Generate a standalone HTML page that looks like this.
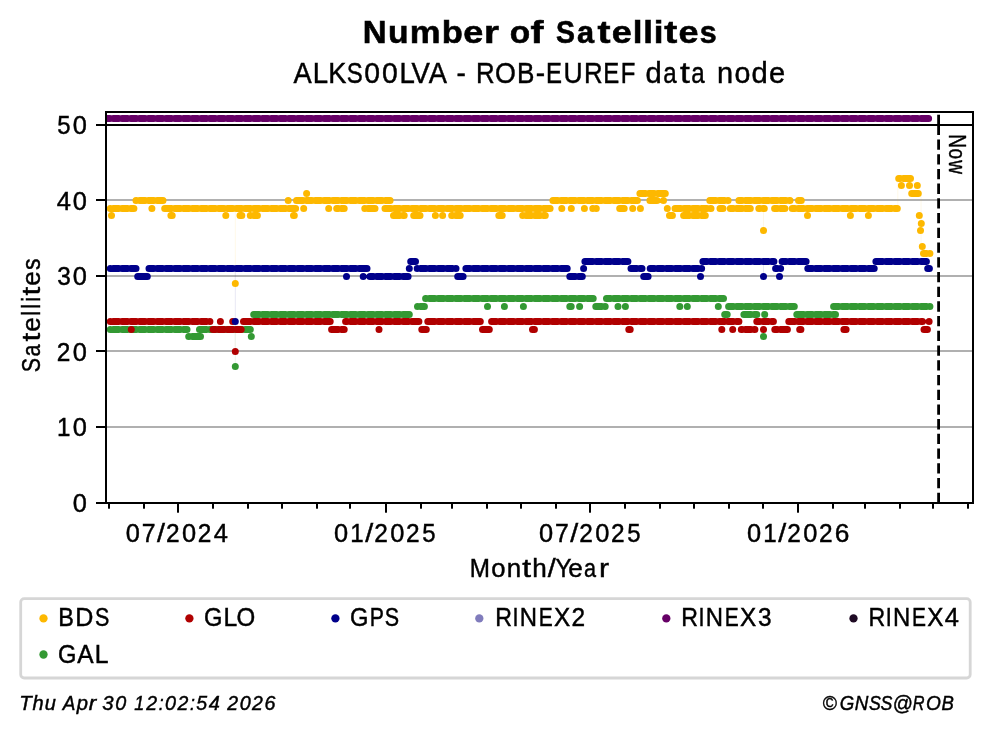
<!DOCTYPE html>
<html><head><meta charset="utf-8"><title>Number of Satellites</title>
<style>html,body{margin:0;padding:0;background:#fff;}svg{display:block;will-change:transform;}text{font-family:"Liberation Sans",sans-serif;}</style></head>
<body>
<svg width="993" height="734" viewBox="0 0 993 734" font-family="'Liberation Sans', sans-serif" fill="#000">
<rect width="993" height="734" fill="#fff"/>
<rect x="106.0" y="199.0" width="867.0" height="2" fill="#b0b0b0"/>
<rect x="106.0" y="275.0" width="867.0" height="2" fill="#b0b0b0"/>
<rect x="106.0" y="350.0" width="867.0" height="2" fill="#b0b0b0"/>
<rect x="106.0" y="426.0" width="867.0" height="2" fill="#b0b0b0"/>
<g stroke-width="1" fill="none" opacity="0.09"><path d="M235.3 208.5V283.5" stroke="#fdb800"/><path d="M235.3 268.5V321.5" stroke="#00008b"/><path d="M235.3 321.5V351.5" stroke="#b00000"/><path d="M235.3 329.5V366.5" stroke="#339933"/><path d="M763.5 208.5V230.5" stroke="#fdb800"/><path d="M763.5 261.5V276.5" stroke="#00008b"/><path d="M897.8 178.5V208.5" stroke="#fdb800"/><path d="M921 193.5V253.5" stroke="#fdb800"/></g>
<clipPath id="ax"><rect x="106.0" y="112.0" width="867.0" height="391.0"/></clipPath>
<g clip-path="url(#ax)">
<path d="M110.3 208.5h.01M113.3 208.5H118.7M122.1 208.5H127.5M130.9 208.5H133.9M136 200.5H136.3M139.7 200.5H145.1M148.5 200.5H153.8M157.2 200.5H163M151.9 208.5h.01M164.7 208.5H171.4M174.8 208.5H180.2M183.6 208.5H189M192.4 208.5H197.7M201.1 208.5H206.5M209.9 208.5H215.3M218.7 208.5H224.1M227.5 208.5H232.9M236.3 208.5H241.6M245 208.5H250.4M253.8 208.5H259.2M262.6 208.5H268M271.4 208.5H276.8M280.2 208.5H285.5M288.9 208.5H295.6M303.7 208.5h.01M111.5 215.5h.01M170.9 215.5H172.2M225.8 215.5h.01M240 215.5H241.8M250.3 215.5H250.4M253.8 215.5H257.4M235.3 283.5h.01M293.5 215.5H294.3M288.2 200.5h.01M296.5 200.5H303.1M306.5 200.5H311.9M315.3 200.5H320.7M324.1 200.5H329.4M332.8 200.5H338.2M341.6 200.5H347M350.4 200.5H355.8M359.2 200.5H364.6M368 200.5H373.3M376.7 200.5H382.1M385.5 200.5H390.1M306.6 193.5h.01M328.7 208.5h.01M336.7 208.5H338.2M341.6 208.5H344.2M364.8 208.5h.01M368 208.5H375M385 208.5H390.9M394.3 208.5H399.7M403.1 208.5H408.5M411.9 208.5H417.2M420.6 208.5H426M429.4 208.5H434.8M438.2 208.5H443.6M447 208.5H452.4M455.8 208.5H461.1M464.5 208.5H469.9M473.3 208.5H478.7M482.1 208.5H487.5M490.9 208.5H496.3M499.7 208.5H505M508.4 208.5H513.8M517.2 208.5H522.6M526 208.5H531.4M534.8 208.5H540.2M543.6 208.5H550.1M393.5 215.5H399.7M403.1 215.5H404.2M413.7 215.5H420M561.8 208.5h.01M571.3 208.5h.01M584.4 208.5h.01M552.9 200.5H557.7M561.1 200.5H566.5M569.9 200.5H575.3M578.7 200.5H584.1M587.5 200.5H592.8M596.2 200.5H601.6M605 200.5H610.4M613.8 200.5H619.2M622.6 200.5H628M631.4 200.5H637.4M435.4 215.5h.01M442.6 215.5h.01M451.7 215.5H452.4M455.8 215.5H460.2M498.8 215.5H502.2M522.7 215.5h.01M526 215.5H531.4M534.8 215.5H540.2M543.6 215.5H545.3M639.9 193.5H645.5M648.9 193.5H654.3M657.7 193.5H665.3M649.9 200.5H657M663.5 200.5h.01M709.8 200.5H715.8M719.2 200.5H724.5M727.9 200.5H728.1M738.9 200.5H742.1M745.5 200.5H750.9M754.3 200.5H759.7M763.1 200.5H768.4M771.8 200.5H777.2M780.6 200.5H786M789.4 200.5H790M798.5 200.5H801.3M592.8 208.5h.01M596.2 208.5H596.3M619.7 208.5H624.2M632.7 208.5h.01M640.4 208.5h.01M667.3 208.5h.01M675 208.5H680.6M684 208.5H689.4M692.8 208.5H698.2M701.6 208.5H707M710.4 208.5H711M720 208.5H723M730.3 208.5H733.3M736.7 208.5H742.1M745.5 208.5H750.3M758.8 208.5H759.7M763.1 208.5H764.3M774.6 208.5H777.2M780.6 208.5H784.9M792.2 208.5H794.8M798.2 208.5H803.6M807 208.5H812.3M815.7 208.5H821.1M824.5 208.5H829.9M833.3 208.5H838.7M842.1 208.5H847.5M850.9 208.5H856.2M859.6 208.5H865M868.4 208.5H873.8M877.2 208.5H882.6M886 208.5H891.4M894.8 208.5H897.3M669.5 215.5H672.4M683.6 215.5H689.4M692.8 215.5H698.2M701.6 215.5H705.3M807.5 215.5h.01M850.4 215.5h.01M868.4 215.5h.01M763.5 230.5h.01M898.7 178.5H900.1M903.5 178.5H910.5M901.4 185.5h.01M909.5 185.5h.01M917.3 185.5h.01M911.7 193.5H918.3M919.3 215.5h.01M921.3 223.5h.01M920.5 230.5h.01M922.3 246.5h.01M923.5 253.5H926.5M929.9 253.5h.01" stroke="#fdb800" stroke-width="7.0" stroke-linecap="round" fill="none"/>
<path d="M110.3 329.5h.01M113.3 329.5H118.7M122.1 329.5H127.5M130.9 329.5H136.3M139.7 329.5H145.1M148.5 329.5H153.8M157.2 329.5H162.6M166 329.5H171.4M174.8 329.5H180.2M183.6 329.5H187M188.7 336.5H189M192.4 336.5H200.5M199.5 329.5H206.5M209.9 329.5H215.3M218.7 329.5H224.1M227.5 329.5H232.9M236.3 329.5H241.6M245 329.5H250.3M251.3 336.5h.01M235.3 366.5h.01M253.7 314.5H259.2M262.6 314.5H268M271.4 314.5H276.8M280.2 314.5H285.5M288.9 314.5H294.3M297.7 314.5H303.1M306.5 314.5H311.9M315.3 314.5H320.7M324.1 314.5H329.4M332.8 314.5H338.2M341.6 314.5H347M350.4 314.5H355.8M359.2 314.5H364.6M368 314.5H373.3M376.7 314.5H382.1M385.5 314.5H390.9M394.3 314.5H399.7M403.1 314.5H409.3M417.5 306.5h.01M420.6 306.5H424.4M425.6 298.5H426M429.4 298.5H434.8M438.2 298.5H443.6M447 298.5H452.4M455.8 298.5H461.1M464.5 298.5H469.9M473.3 298.5H478.7M482.1 298.5H487.5M490.9 298.5H496.3M499.7 298.5H505M508.4 298.5H513.8M517.2 298.5H522.6M526 298.5H531.4M534.8 298.5H540.2M543.6 298.5H548.9M552.3 298.5H557.7M561.1 298.5H566.5M569.9 298.5H575.3M578.7 298.5H584.1M587.5 298.5H593.2M487.5 306.5h.01M504.4 306.5h.01M523.4 306.5h.01M569.8 306.5H571.2M579.6 306.5h.01M606.5 298.5H610.4M613.8 298.5H619.2M622.6 298.5H628M631.4 298.5H636.7M640.1 298.5H645.5M648.9 298.5H654.3M657.7 298.5H663.1M666.5 298.5H671.9M675.3 298.5H680.6M684 298.5H689.4M692.8 298.5H698.2M701.6 298.5H707M710.4 298.5H715.8M719.2 298.5H723.5M595.8 306.5H601.6M605 306.5H605.2M618 306.5h.01M625.4 306.5h.01M679.8 306.5h.01M687.3 306.5h.01M718.3 306.5h.01M728.6 306.5H733.3M736.7 306.5H742.1M745.5 306.5H750.9M754.3 306.5H759.7M763.1 306.5H768.4M771.8 306.5H777.2M780.6 306.5H786M789.4 306.5H794.3M724.7 314.5H727.2M743.9 314.5H750.9M754.3 314.5H756.8M764.7 314.5h.01M796.8 314.5H803.6M807 314.5H812.3M815.7 314.5H821.1M824.5 314.5H829.9M833.3 314.5H835.5M833.6 306.5H838.7M842.1 306.5H847.5M850.9 306.5H856.2M859.6 306.5H865M868.4 306.5H873.8M877.2 306.5H882.6M886 306.5H891.4M894.8 306.5H900.1M903.5 306.5H908.9M912.3 306.5H917.7M921.1 306.5H926.5M929.9 306.5h.01M763.5 336.5h.01" stroke="#339933" stroke-width="7.0" stroke-linecap="round" fill="none"/>
<path d="M110.3 321.5h.01M113.3 321.5H118.7M122.1 321.5H127.5M130.9 321.5H136.3M139.7 321.5H145.1M148.5 321.5H153.8M157.2 321.5H162.6M166 321.5H171.4M174.8 321.5H180.2M183.6 321.5H189M192.4 321.5H197.7M201.1 321.5H206.5M209.9 321.5h.01M220.4 321.5h.01M232.7 321.5h.01M243.5 321.5H250.4M253.8 321.5H259.2M262.6 321.5H268M271.4 321.5H276.8M280.2 321.5H285.5M288.9 321.5H294.3M297.7 321.5H303.1M306.5 321.5H311.9M315.3 321.5H320.7M324.1 321.5H330.2M131.3 329.5h.01M213 329.5H215.3M218.7 329.5H224.1M227.5 329.5H232.9M236.3 329.5H241.2M235.3 351.5h.01M331.6 329.5H338.2M341.6 329.5H344.2M345.6 321.5H347M350.4 321.5H355.8M359.2 321.5H364.6M368 321.5H373.3M376.7 321.5H382.1M385.5 321.5H390.9M394.3 321.5H399.7M403.1 321.5H408.5M411.9 321.5H418.9M379 329.5h.01M421.8 329.5H426.3M427.8 321.5H434.8M438.2 321.5H443.6M447 321.5H452.4M455.8 321.5H461.1M464.5 321.5H469.9M473.3 321.5H480.3M482.5 329.5H489.3M491.6 321.5H496.3M499.7 321.5H505M508.4 321.5H513.8M517.2 321.5H522.6M526 321.5H531.4M534.8 321.5H540.2M543.6 321.5H548.9M552.3 321.5H557.7M561.1 321.5H566.5M569.9 321.5H575.3M578.7 321.5H584.1M587.5 321.5H592.8M596.2 321.5H601.6M605 321.5H610.4M613.8 321.5H619.2M622.6 321.5H628M631.4 321.5H636.7M640.1 321.5H645.5M648.9 321.5H654.3M657.7 321.5H663.1M666.5 321.5H671.9M675.3 321.5H680.6M684 321.5H689.4M692.8 321.5H698.2M701.6 321.5H707M710.4 321.5H715.8M719.2 321.5H724.5M727.9 321.5H733.3M736.7 321.5H738.9M532.5 329.5H534.4M628.8 329.5H630.2M721.8 329.5h.01M732.7 329.5h.01M741.3 329.5H742.1M745.5 329.5H750.9M754.3 329.5H754.9M756.8 321.5H759.7M763.1 321.5H768.4M771.8 321.5H773.4M763.5 329.5h.01M774.8 329.5H777.2M780.6 329.5H787.4M788.8 321.5H794.8M798.2 321.5H803.6M807 321.5H812.3M815.7 321.5H821.1M824.5 321.5H829.9M833.3 321.5H838.7M842.1 321.5H847.5M850.9 321.5H856.2M859.6 321.5H865M868.4 321.5H873.8M877.2 321.5H882.6M886 321.5H891.4M894.8 321.5H900.1M903.5 321.5H908.9M912.3 321.5H917.7M921.1 321.5H922.5M799.7 329.5H800.9M843.9 329.5H846.1M924 329.5H927.4M929.1 321.5h.01" stroke="#b00000" stroke-width="7.0" stroke-linecap="round" fill="none"/>
<path d="M110.3 268.5h.01M113.3 268.5H118.7M122.1 268.5H127.5M130.9 268.5H136M137.7 276.5H147.3M149 268.5H153.8M157.2 268.5H162.6M166 268.5H171.4M174.8 268.5H180.2M183.6 268.5H189M192.4 268.5H197.7M201.1 268.5H206.5M209.9 268.5H215.3M218.7 268.5H224.1M227.5 268.5H232.9M236.3 268.5H241.6M245 268.5H250.4M253.8 268.5H259.2M262.6 268.5H268M271.4 268.5H276.8M280.2 268.5H285.5M288.9 268.5H294.3M297.7 268.5H303.1M306.5 268.5H311.9M315.3 268.5H320.7M324.1 268.5H329.4M332.8 268.5H338.2M341.6 268.5H347M350.4 268.5H355.8M359.2 268.5H367M346.5 276.5h.01M363.2 276.5h.01M369.9 276.5H373.3M376.7 276.5H382.1M385.5 276.5H390.9M394.3 276.5H399.7M403.1 276.5H408.1M409.3 268.5h.01M410.7 261.5H415.5M417.2 268.5h.01M420.6 268.5H426M429.4 268.5H434.8M438.2 268.5H443.6M447 268.5H452.4M455.8 268.5H456M457.7 276.5H463.1M465.9 268.5H469.9M473.3 268.5H478.7M482.1 268.5H487.5M490.9 268.5H496.3M499.7 268.5H505M508.4 268.5H513.8M517.2 268.5H522.6M526 268.5H531.4M534.8 268.5H540.2M543.6 268.5H548.9M552.3 268.5H557.7M561.1 268.5H567.2M569.8 276.5H575.3M578.7 276.5H582.3M583.6 268.5h.01M584.9 261.5H592.8M596.2 261.5H601.6M605 261.5H610.4M613.8 261.5H619.2M622.6 261.5H627.9M631 268.5H636.7M640.1 268.5H642M643.7 276.5H648.1M650.2 268.5H654.3M657.7 268.5H663.1M666.5 268.5H671.9M675.3 268.5H680.6M684 268.5H689.4M692.8 268.5H698.2M701.6 268.5h.01M700.5 276.5h.01M702.9 261.5H707M710.4 261.5H715.8M719.2 261.5H724.5M727.9 261.5H733.3M736.7 261.5H742.1M745.5 261.5H750.9M754.3 261.5H759.7M763.1 261.5H768.4M771.8 261.5H773.9M782.1 261.5H786M789.4 261.5H794.8M798.2 261.5H806.1M775.6 268.5H777.2M780.6 268.5h.01M763.5 276.5h.01M779.5 276.5h.01M807.8 268.5H812.3M815.7 268.5H821.1M824.5 268.5H829.9M833.3 268.5H838.7M842.1 268.5H847.5M850.9 268.5H856.2M859.6 268.5H865M868.4 268.5H874.2M875.9 261.5H882.6M886 261.5H891.4M894.8 261.5H900.1M903.5 261.5H908.9M912.3 261.5H917.7M921.1 261.5H926.4M927.7 268.5H929.4M235.3 321.5h.01" stroke="#00008b" stroke-width="7.0" stroke-linecap="round" fill="none"/>
<path d="M107.6 118.5H109.9M113.3 118.5H118.7M122.1 118.5H127.5M130.9 118.5H136.3M139.7 118.5H145.1M148.5 118.5H153.8M157.2 118.5H162.6M166 118.5H171.4M174.8 118.5H180.2M183.6 118.5H189M192.4 118.5H197.7M201.1 118.5H206.5M209.9 118.5H215.3M218.7 118.5H224.1M227.5 118.5H232.9M236.3 118.5H241.6M245 118.5H250.4M253.8 118.5H259.2M262.6 118.5H268M271.4 118.5H276.8M280.2 118.5H285.5M288.9 118.5H294.3M297.7 118.5H303.1M306.5 118.5H311.9M315.3 118.5H320.7M324.1 118.5H329.4M332.8 118.5H338.2M341.6 118.5H347M350.4 118.5H355.8M359.2 118.5H364.6M368 118.5H373.3M376.7 118.5H382.1M385.5 118.5H390.9M394.3 118.5H399.7M403.1 118.5H408.5M411.9 118.5H417.2M420.6 118.5H426M429.4 118.5H434.8M438.2 118.5H443.6M447 118.5H452.4M455.8 118.5H461.1M464.5 118.5H469.9M473.3 118.5H478.7M482.1 118.5H487.5M490.9 118.5H496.3M499.7 118.5H505M508.4 118.5H513.8M517.2 118.5H522.6M526 118.5H531.4M534.8 118.5H540.2M543.6 118.5H548.9M552.3 118.5H557.7M561.1 118.5H566.5M569.9 118.5H575.3M578.7 118.5H584.1M587.5 118.5H592.8M596.2 118.5H601.6M605 118.5H610.4M613.8 118.5H619.2M622.6 118.5H628M631.4 118.5H636.7M640.1 118.5H645.5M648.9 118.5H654.3M657.7 118.5H663.1M666.5 118.5H671.9M675.3 118.5H680.6M684 118.5H689.4M692.8 118.5H698.2M701.6 118.5H707M710.4 118.5H715.8M719.2 118.5H724.5M727.9 118.5H733.3M736.7 118.5H742.1M745.5 118.5H750.9M754.3 118.5H759.7M763.1 118.5H768.4M771.8 118.5H777.2M780.6 118.5H786M789.4 118.5H794.8M798.2 118.5H803.6M807 118.5H812.3M815.7 118.5H821.1M824.5 118.5H829.9M833.3 118.5H838.7M842.1 118.5H847.5M850.9 118.5H856.2M859.6 118.5H865M868.4 118.5H873.8M877.2 118.5H882.6M886 118.5H891.4M894.8 118.5H900.1M903.5 118.5H908.9M912.3 118.5H917.7M921.1 118.5H928.6" stroke="#660066" stroke-width="7.0" stroke-linecap="round" fill="none"/>
</g>
<path d="M938.6 503.0V125.0" stroke="#000" stroke-width="2.8" stroke-dasharray="10.28 4.44" fill="none"/>
<path d="M938.6 125.0V112.0" stroke="#000" stroke-width="2.8" stroke-dasharray="10.28 4.44" fill="none"/>
<rect x="105.0" y="111.0" width="2" height="393.0"/>
<rect x="972.0" y="111.0" width="2" height="393.0"/>
<rect x="105.0" y="111.0" width="869.0" height="2"/>
<rect x="105.0" y="124.0" width="869.0" height="2"/>
<rect x="105.0" y="502.0" width="869.0" height="2"/>
<rect x="96" y="502.0" width="10" height="2"/>
<rect x="96" y="426.0" width="10" height="2"/>
<rect x="96" y="350.0" width="10" height="2"/>
<rect x="96" y="275.0" width="10" height="2"/>
<rect x="96" y="199.0" width="10" height="2"/>
<rect x="96" y="124.0" width="10" height="2"/>
<rect x="108" y="503.0" width="2" height="5.7"/>
<rect x="143" y="503.0" width="2" height="5.7"/>
<rect x="177" y="503.0" width="2" height="9.7"/>
<rect x="212" y="503.0" width="2" height="5.7"/>
<rect x="247" y="503.0" width="2" height="5.7"/>
<rect x="281" y="503.0" width="2" height="5.7"/>
<rect x="316" y="503.0" width="2" height="5.7"/>
<rect x="349" y="503.0" width="2" height="5.7"/>
<rect x="385" y="503.0" width="2" height="9.7"/>
<rect x="420" y="503.0" width="2" height="5.7"/>
<rect x="451" y="503.0" width="2" height="5.7"/>
<rect x="486" y="503.0" width="2" height="5.7"/>
<rect x="520" y="503.0" width="2" height="5.7"/>
<rect x="555" y="503.0" width="2" height="5.7"/>
<rect x="589" y="503.0" width="2" height="9.7"/>
<rect x="624" y="503.0" width="2" height="5.7"/>
<rect x="659" y="503.0" width="2" height="5.7"/>
<rect x="693" y="503.0" width="2" height="5.7"/>
<rect x="728" y="503.0" width="2" height="5.7"/>
<rect x="762" y="503.0" width="2" height="5.7"/>
<rect x="797" y="503.0" width="2" height="9.7"/>
<rect x="832" y="503.0" width="2" height="5.7"/>
<rect x="864" y="503.0" width="2" height="5.7"/>
<rect x="899" y="503.0" width="2" height="5.7"/>
<rect x="932" y="503.0" width="2" height="5.7"/>
<rect x="967" y="503.0" width="2" height="5.7"/>
<text y="43.0" font-size="31.3" stroke="#000" stroke-width="0.55" font-weight="bold"><tspan x="362.85" textLength="23.85" lengthAdjust="spacingAndGlyphs">N</tspan><tspan x="388.13" textLength="20.55" lengthAdjust="spacingAndGlyphs">u</tspan><tspan x="409.84" textLength="30.76" lengthAdjust="spacingAndGlyphs">m</tspan><tspan x="441.71" textLength="21.07" lengthAdjust="spacingAndGlyphs">b</tspan><tspan x="463.20" textLength="20.02" lengthAdjust="spacingAndGlyphs">e</tspan><tspan x="484.04" textLength="14.98" lengthAdjust="spacingAndGlyphs">r</tspan><tspan x="498.81"> </tspan><tspan x="509.73" textLength="20.43" lengthAdjust="spacingAndGlyphs">o</tspan><tspan x="530.63" textLength="13.02" lengthAdjust="spacingAndGlyphs">f</tspan><tspan x="543.73"> </tspan><tspan x="556.02" textLength="18.95" lengthAdjust="spacingAndGlyphs">S</tspan><tspan x="577.07" textLength="17.06" lengthAdjust="spacingAndGlyphs">a</tspan><tspan x="597.63" textLength="13.03" lengthAdjust="spacingAndGlyphs">t</tspan><tspan x="611.78" textLength="20.02" lengthAdjust="spacingAndGlyphs">e</tspan><tspan x="632.73" textLength="9.70" lengthAdjust="spacingAndGlyphs">l</tspan><tspan x="643.20" textLength="9.70" lengthAdjust="spacingAndGlyphs">l</tspan><tspan x="653.67" textLength="9.70" lengthAdjust="spacingAndGlyphs">i</tspan><tspan x="664.39" textLength="13.03" lengthAdjust="spacingAndGlyphs">t</tspan><tspan x="678.53" textLength="20.02" lengthAdjust="spacingAndGlyphs">e</tspan><tspan x="699.86" textLength="16.93" lengthAdjust="spacingAndGlyphs">s</tspan></text>
<text y="83.0" font-size="29.2" stroke="#000" stroke-width="0.45"><tspan x="293.46" textLength="18.21" lengthAdjust="spacingAndGlyphs">A</tspan><tspan x="312.77" textLength="15.33" lengthAdjust="spacingAndGlyphs">L</tspan><tspan x="328.27" textLength="18.16" lengthAdjust="spacingAndGlyphs">K</tspan><tspan x="346.73" textLength="15.99" lengthAdjust="spacingAndGlyphs">S</tspan><tspan x="364.35" textLength="15.76" lengthAdjust="spacingAndGlyphs">0</tspan><tspan x="382.02" textLength="15.76" lengthAdjust="spacingAndGlyphs">0</tspan><tspan x="399.44" textLength="15.33" lengthAdjust="spacingAndGlyphs">L</tspan><tspan x="411.49" textLength="18.35" lengthAdjust="spacingAndGlyphs">V</tspan><tspan x="428.78" textLength="18.21" lengthAdjust="spacingAndGlyphs">A</tspan><tspan x="447.40"> </tspan><tspan x="456.56" textLength="9.36" lengthAdjust="spacingAndGlyphs">-</tspan><tspan x="466.25"> </tspan><tspan x="475.92" textLength="18.64" lengthAdjust="spacingAndGlyphs">R</tspan><tspan x="494.90" textLength="20.85" lengthAdjust="spacingAndGlyphs">O</tspan><tspan x="517.05" textLength="17.44" lengthAdjust="spacingAndGlyphs">B</tspan><tspan x="535.64" textLength="9.36" lengthAdjust="spacingAndGlyphs">-</tspan><tspan x="546.12" textLength="15.97" lengthAdjust="spacingAndGlyphs">E</tspan><tspan x="563.47" textLength="19.14" lengthAdjust="spacingAndGlyphs">U</tspan><tspan x="584.04" textLength="18.64" lengthAdjust="spacingAndGlyphs">R</tspan><tspan x="603.31" textLength="15.97" lengthAdjust="spacingAndGlyphs">E</tspan><tspan x="620.79" textLength="14.63" lengthAdjust="spacingAndGlyphs">F</tspan><tspan x="636.04"> </tspan><tspan x="645.40" textLength="16.23" lengthAdjust="spacingAndGlyphs">d</tspan><tspan x="663.37" textLength="13.40" lengthAdjust="spacingAndGlyphs">a</tspan><tspan x="679.96" textLength="9.83" lengthAdjust="spacingAndGlyphs">t</tspan><tspan x="691.28" textLength="13.40" lengthAdjust="spacingAndGlyphs">a</tspan><tspan x="707.44"> </tspan><tspan x="717.09" textLength="16.07" lengthAdjust="spacingAndGlyphs">n</tspan><tspan x="734.43" textLength="15.89" lengthAdjust="spacingAndGlyphs">o</tspan><tspan x="751.40" textLength="16.23" lengthAdjust="spacingAndGlyphs">d</tspan><tspan x="769.02" textLength="16.15" lengthAdjust="spacingAndGlyphs">e</tspan></text>
<text y="512" font-size="25.6" stroke="#000" stroke-width="0.45"><tspan x="72.73" textLength="14.13" lengthAdjust="spacingAndGlyphs">0</tspan></text>
<text y="436" font-size="25.6" stroke="#000" stroke-width="0.45"><tspan x="57.08" textLength="13.42" lengthAdjust="spacingAndGlyphs">1</tspan><tspan x="72.73" textLength="14.13" lengthAdjust="spacingAndGlyphs">0</tspan></text>
<text y="361" font-size="25.6" stroke="#000" stroke-width="0.45"><tspan x="56.78" textLength="13.58" lengthAdjust="spacingAndGlyphs">2</tspan><tspan x="72.73" textLength="14.13" lengthAdjust="spacingAndGlyphs">0</tspan></text>
<text y="285" font-size="25.6" stroke="#000" stroke-width="0.45"><tspan x="57.15" textLength="13.55" lengthAdjust="spacingAndGlyphs">3</tspan><tspan x="72.73" textLength="14.13" lengthAdjust="spacingAndGlyphs">0</tspan></text>
<text y="210" font-size="25.6" stroke="#000" stroke-width="0.45"><tspan x="56.81" textLength="14.16" lengthAdjust="spacingAndGlyphs">4</tspan><tspan x="72.73" textLength="14.13" lengthAdjust="spacingAndGlyphs">0</tspan></text>
<text y="134" font-size="25.6" stroke="#000" stroke-width="0.45"><tspan x="57.14" textLength="13.30" lengthAdjust="spacingAndGlyphs">5</tspan><tspan x="72.73" textLength="14.13" lengthAdjust="spacingAndGlyphs">0</tspan></text>
<text y="542.0" font-size="25.6" stroke="#000" stroke-width="0.45"><tspan x="125.78" textLength="14.13" lengthAdjust="spacingAndGlyphs">0</tspan><tspan x="141.81" textLength="13.79" lengthAdjust="spacingAndGlyphs">7</tspan><tspan x="156.94" textLength="7.97" lengthAdjust="spacingAndGlyphs">/</tspan><tspan x="165.96" textLength="13.58" lengthAdjust="spacingAndGlyphs">2</tspan><tspan x="181.92" textLength="14.13" lengthAdjust="spacingAndGlyphs">0</tspan><tspan x="197.77" textLength="13.58" lengthAdjust="spacingAndGlyphs">2</tspan><tspan x="213.71" textLength="14.16" lengthAdjust="spacingAndGlyphs">4</tspan></text>
<text y="542.0" font-size="25.6" stroke="#000" stroke-width="0.45"><tspan x="334.07" textLength="14.13" lengthAdjust="spacingAndGlyphs">0</tspan><tspan x="350.23" textLength="13.42" lengthAdjust="spacingAndGlyphs">1</tspan><tspan x="365.23" textLength="7.97" lengthAdjust="spacingAndGlyphs">/</tspan><tspan x="374.25" textLength="13.58" lengthAdjust="spacingAndGlyphs">2</tspan><tspan x="390.21" textLength="14.13" lengthAdjust="spacingAndGlyphs">0</tspan><tspan x="406.06" textLength="13.58" lengthAdjust="spacingAndGlyphs">2</tspan><tspan x="422.34" textLength="13.30" lengthAdjust="spacingAndGlyphs">5</tspan></text>
<text y="542.0" font-size="25.6" stroke="#000" stroke-width="0.45"><tspan x="539.07" textLength="14.13" lengthAdjust="spacingAndGlyphs">0</tspan><tspan x="555.10" textLength="13.79" lengthAdjust="spacingAndGlyphs">7</tspan><tspan x="570.23" textLength="7.97" lengthAdjust="spacingAndGlyphs">/</tspan><tspan x="579.25" textLength="13.58" lengthAdjust="spacingAndGlyphs">2</tspan><tspan x="595.21" textLength="14.13" lengthAdjust="spacingAndGlyphs">0</tspan><tspan x="611.06" textLength="13.58" lengthAdjust="spacingAndGlyphs">2</tspan><tspan x="627.34" textLength="13.30" lengthAdjust="spacingAndGlyphs">5</tspan></text>
<text y="542.0" font-size="25.6" stroke="#000" stroke-width="0.45"><tspan x="747.01" textLength="14.13" lengthAdjust="spacingAndGlyphs">0</tspan><tspan x="763.17" textLength="13.42" lengthAdjust="spacingAndGlyphs">1</tspan><tspan x="778.17" textLength="7.97" lengthAdjust="spacingAndGlyphs">/</tspan><tspan x="787.20" textLength="13.58" lengthAdjust="spacingAndGlyphs">2</tspan><tspan x="803.16" textLength="14.13" lengthAdjust="spacingAndGlyphs">0</tspan><tspan x="819.01" textLength="13.58" lengthAdjust="spacingAndGlyphs">2</tspan><tspan x="834.72" textLength="14.63" lengthAdjust="spacingAndGlyphs">6</tspan></text>
<text y="577.0" font-size="25.6" stroke="#000" stroke-width="0.45"><tspan x="469.76" textLength="20.20" lengthAdjust="spacingAndGlyphs">M</tspan><tspan x="491.17" textLength="14.25" lengthAdjust="spacingAndGlyphs">o</tspan><tspan x="506.71" textLength="14.40" lengthAdjust="spacingAndGlyphs">n</tspan><tspan x="522.20" textLength="8.79" lengthAdjust="spacingAndGlyphs">t</tspan><tspan x="532.27" textLength="14.50" lengthAdjust="spacingAndGlyphs">h</tspan><tspan x="547.65" textLength="7.97" lengthAdjust="spacingAndGlyphs">/</tspan><tspan x="555.50" textLength="15.97" lengthAdjust="spacingAndGlyphs">Y</tspan><tspan x="568.30" textLength="14.48" lengthAdjust="spacingAndGlyphs">e</tspan><tspan x="583.99" textLength="12.02" lengthAdjust="spacingAndGlyphs">a</tspan><tspan x="598.99" textLength="10.07" lengthAdjust="spacingAndGlyphs">r</tspan></text>
<rect x="20.7" y="598.6" width="949.5" height="79.4" rx="3.5" ry="3.5" fill="#fff" stroke="#d6d6d6" stroke-width="2.8"/>
<circle cx="43.5" cy="618.4" r="4.15" fill="#fdb800"/>
<text y="626.0" font-size="25.6" stroke="#000" stroke-width="0.45"><tspan x="58.36" textLength="15.64" lengthAdjust="spacingAndGlyphs">B</tspan><tspan x="75.37" textLength="18.13" lengthAdjust="spacingAndGlyphs">D</tspan><tspan x="94.90" textLength="14.34" lengthAdjust="spacingAndGlyphs">S</tspan></text>
<circle cx="189.4" cy="618.4" r="4.15" fill="#b00000"/>
<text y="626.0" font-size="25.6" stroke="#000" stroke-width="0.45"><tspan x="203.94" textLength="18.43" lengthAdjust="spacingAndGlyphs">G</tspan><tspan x="223.53" textLength="13.74" lengthAdjust="spacingAndGlyphs">L</tspan><tspan x="236.40" textLength="18.71" lengthAdjust="spacingAndGlyphs">O</tspan></text>
<circle cx="335.4" cy="618.4" r="4.15" fill="#00008b"/>
<text y="626.0" font-size="25.6" stroke="#000" stroke-width="0.45"><tspan x="349.94" textLength="18.43" lengthAdjust="spacingAndGlyphs">G</tspan><tspan x="369.81" textLength="14.18" lengthAdjust="spacingAndGlyphs">P</tspan><tspan x="384.84" textLength="14.34" lengthAdjust="spacingAndGlyphs">S</tspan></text>
<circle cx="479.3" cy="618.4" r="4.15" fill="#807cbc"/>
<text y="626.0" font-size="25.6" stroke="#000" stroke-width="0.45"><tspan x="495.18" textLength="16.72" lengthAdjust="spacingAndGlyphs">R</tspan><tspan x="512.45" textLength="6.01" lengthAdjust="spacingAndGlyphs">I</tspan><tspan x="519.86" textLength="17.25" lengthAdjust="spacingAndGlyphs">N</tspan><tspan x="538.76" textLength="14.00" lengthAdjust="spacingAndGlyphs">E</tspan><tspan x="554.06" textLength="16.21" lengthAdjust="spacingAndGlyphs">X</tspan><tspan x="571.60" textLength="13.58" lengthAdjust="spacingAndGlyphs">2</tspan></text>
<circle cx="666.3" cy="618.4" r="4.15" fill="#660066"/>
<text y="626.0" font-size="25.6" stroke="#000" stroke-width="0.45"><tspan x="681.18" textLength="16.72" lengthAdjust="spacingAndGlyphs">R</tspan><tspan x="698.45" textLength="6.01" lengthAdjust="spacingAndGlyphs">I</tspan><tspan x="705.86" textLength="17.25" lengthAdjust="spacingAndGlyphs">N</tspan><tspan x="724.76" textLength="14.00" lengthAdjust="spacingAndGlyphs">E</tspan><tspan x="740.06" textLength="16.21" lengthAdjust="spacingAndGlyphs">X</tspan><tspan x="757.97" textLength="13.55" lengthAdjust="spacingAndGlyphs">3</tspan></text>
<circle cx="853.5" cy="618.4" r="4.15" fill="#1f0a24"/>
<text y="626.0" font-size="25.6" stroke="#000" stroke-width="0.45"><tspan x="868.38" textLength="16.72" lengthAdjust="spacingAndGlyphs">R</tspan><tspan x="885.65" textLength="6.01" lengthAdjust="spacingAndGlyphs">I</tspan><tspan x="893.06" textLength="17.25" lengthAdjust="spacingAndGlyphs">N</tspan><tspan x="911.96" textLength="14.00" lengthAdjust="spacingAndGlyphs">E</tspan><tspan x="927.26" textLength="16.21" lengthAdjust="spacingAndGlyphs">X</tspan><tspan x="944.83" textLength="14.16" lengthAdjust="spacingAndGlyphs">4</tspan></text>
<circle cx="43.5" cy="654.5" r="4.15" fill="#339933"/>
<text y="663.0" font-size="25.6" stroke="#000" stroke-width="0.45"><tspan x="58.04" textLength="18.43" lengthAdjust="spacingAndGlyphs">G</tspan><tspan x="77.35" textLength="16.34" lengthAdjust="spacingAndGlyphs">A</tspan><tspan x="94.73" textLength="13.74" lengthAdjust="spacingAndGlyphs">L</tspan></text>
<text y="710.0" font-size="19.9" stroke="#000" stroke-width="0.45" font-style="italic"><tspan x="19.22" textLength="12.48" lengthAdjust="spacingAndGlyphs">T</tspan><tspan x="32.45" textLength="11.12" lengthAdjust="spacingAndGlyphs">h</tspan><tspan x="44.69" textLength="11.13" lengthAdjust="spacingAndGlyphs">u</tspan><tspan x="56.52"> </tspan><tspan x="62.82" textLength="12.63" lengthAdjust="spacingAndGlyphs">A</tspan><tspan x="76.67" textLength="11.20" lengthAdjust="spacingAndGlyphs">p</tspan><tspan x="88.88" textLength="7.48" lengthAdjust="spacingAndGlyphs">r</tspan><tspan x="96.34"> </tspan><tspan x="102.31" textLength="11.28" lengthAdjust="spacingAndGlyphs">3</tspan><tspan x="115.22" textLength="11.00" lengthAdjust="spacingAndGlyphs">0</tspan><tspan x="127.26"> </tspan><tspan x="134.15" textLength="10.02" lengthAdjust="spacingAndGlyphs">1</tspan><tspan x="146.23" textLength="10.81" lengthAdjust="spacingAndGlyphs">2</tspan><tspan x="158.71" textLength="4.93" lengthAdjust="spacingAndGlyphs">:</tspan><tspan x="165.07" textLength="11.00" lengthAdjust="spacingAndGlyphs">0</tspan><tspan x="177.52" textLength="10.81" lengthAdjust="spacingAndGlyphs">2</tspan><tspan x="190.01" textLength="4.93" lengthAdjust="spacingAndGlyphs">:</tspan><tspan x="196.20" textLength="10.85" lengthAdjust="spacingAndGlyphs">5</tspan><tspan x="208.85" textLength="11.06" lengthAdjust="spacingAndGlyphs">4</tspan><tspan x="220.77"> </tspan><tspan x="227.37" textLength="10.81" lengthAdjust="spacingAndGlyphs">2</tspan><tspan x="239.66" textLength="11.00" lengthAdjust="spacingAndGlyphs">0</tspan><tspan x="252.11" textLength="10.81" lengthAdjust="spacingAndGlyphs">2</tspan><tspan x="264.41" textLength="10.94" lengthAdjust="spacingAndGlyphs">6</tspan></text>
<text y="710.0" font-size="19.9" stroke="#000" stroke-width="0.45" font-style="italic"><tspan x="822.39" textLength="14.21" lengthAdjust="spacingAndGlyphs">©</tspan><tspan x="839.70" textLength="14.50" lengthAdjust="spacingAndGlyphs">G</tspan><tspan x="854.75" textLength="13.62" lengthAdjust="spacingAndGlyphs">N</tspan><tspan x="868.97" textLength="11.86" lengthAdjust="spacingAndGlyphs">S</tspan><tspan x="880.62" textLength="11.86" lengthAdjust="spacingAndGlyphs">S</tspan><tspan x="892.60" textLength="20.18" lengthAdjust="spacingAndGlyphs">@</tspan><tspan x="912.77" textLength="11.78" lengthAdjust="spacingAndGlyphs">R</tspan><tspan x="926.05" textLength="14.87" lengthAdjust="spacingAndGlyphs">O</tspan><tspan x="941.56" textLength="12.39" lengthAdjust="spacingAndGlyphs">B</tspan></text>
<text transform="translate(40.0 315.3) rotate(-90)" font-size="25.6" stroke="#000" stroke-width="0.45"><tspan x="-57.03" textLength="14.34" lengthAdjust="spacingAndGlyphs">S</tspan><tspan x="-41.24" textLength="12.02" lengthAdjust="spacingAndGlyphs">a</tspan><tspan x="-26.32" textLength="8.79" lengthAdjust="spacingAndGlyphs">t</tspan><tspan x="-16.43" textLength="14.48" lengthAdjust="spacingAndGlyphs">e</tspan><tspan x="-0.41" textLength="4.66" lengthAdjust="spacingAndGlyphs">l</tspan><tspan x="6.54" textLength="4.66" lengthAdjust="spacingAndGlyphs">l</tspan><tspan x="13.49" textLength="4.66" lengthAdjust="spacingAndGlyphs">i</tspan><tspan x="19.70" textLength="8.79" lengthAdjust="spacingAndGlyphs">t</tspan><tspan x="29.59" textLength="14.48" lengthAdjust="spacingAndGlyphs">e</tspan><tspan x="45.41" textLength="11.47" lengthAdjust="spacingAndGlyphs">s</tspan></text>
<text transform="translate(949.0 154.95) rotate(90)" font-size="23.2" stroke="#000" stroke-width="0.4"><tspan x="-20.69" textLength="13.74" lengthAdjust="spacingAndGlyphs">N</tspan><tspan x="-6.46" textLength="10.58" lengthAdjust="spacingAndGlyphs">o</tspan><tspan x="5.25" textLength="13.74" lengthAdjust="spacingAndGlyphs">w</tspan></text>
</svg>
</body></html>
